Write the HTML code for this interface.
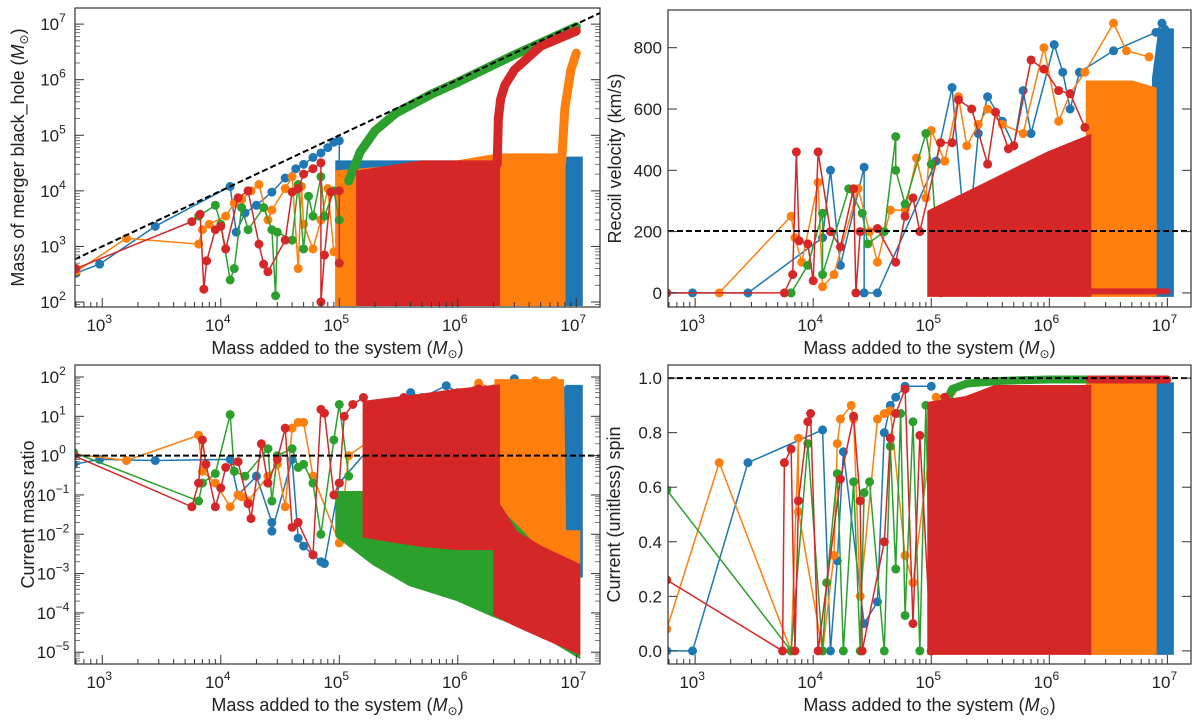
<!DOCTYPE html>
<html><head><meta charset="utf-8"><style>
html,body{margin:0;padding:0;background:#fff}
svg{display:block;font-family:"Liberation Sans","DejaVu Sans",sans-serif}
</style></head><body>
<svg id="fig" width="1200" height="723" viewBox="0 0 1200 723" xmlns="http://www.w3.org/2000/svg"></svg>
<script>
// ---------- data arrays ----------
// Panel 1: mass of merger black hole
const p1BlueSparse = [[600,330],[950,480],[2800,2300],[12000,12000],[13500,1800],[16000,4000],[20000,5500],[27000,9500],[35000,17000],[43000,25000],[50000,30000],[60000,40000],[70000,48000],[80000,60000],[90000,75000],[100000,80000],[100000,3000],[120000,1500]];
const p1OrangeSparse = [[600,350],[1600,1400],[6500,1100],[7000,2000],[8000,2500],[11000,3500],[13000,6000],[15000,7000],[18000,10000],[21000,13000],[25000,3000],[27000,4500],[35000,11000],[40000,18000],[45000,400],[48000,12000],[50000,2500],[60000,900],[70000,3000],[80000,11000],[90000,800]];
const p1GreenSparse = [[6500,3500],[9000,5500],[10000,2500],[12000,250],[13000,400],[15000,5000],[17000,2000],[23000,5000],[27000,2000],[29000,130],[30000,1800],[40000,1300],[45000,13000],[50000,900],[55000,8000],[60000,3500],[70000,18000],[75000,3500],[90000,10000],[100000,3000]];
const p1RedSparse = [[600,400],[5700,2800],[6700,3800],[7200,170],[7600,550],[9000,2000],[10000,2300],[11000,900],[14000,7500],[17000,10000],[21000,1100],[23000,480],[25000,350],[35000,1300],[40000,9500],[45000,11000],[50000,20000],[60000,25000],[70000,32000],[70000,100],[75000,700],[85000,9500],[100000,10000],[100000,500]];
const p1GreenCurveX = [120000,150000,200000,300000,600000,1000000,3000000,10000000];
const p1GreenCurveY = [15000,50000,120000,250000,550000,900000,2800000,9000000];
const p1RedCurveX = [2150000,2200000,2300000,2500000,3000000,5000000,10000000];
const p1RedCurveY = [30000,200000,450000,800000,1500000,4000000,7500000];
const p1OrangeCurveX = [7500000,8000000,9000000,10000000];
const p1OrangeCurveY = [30000,300000,1500000,3000000];
const p1BlueBandX = [100000,1000000,8500000,10500000];
const p1BlueBandLo = [100,100,100,100];
const p1BlueBandHi = [30000,30000,35000,35000];
const p1OrangeBandX = [100000,1000000,2200000,7500000];
const p1OrangeBandLo = [100,100,100,100];
const p1OrangeBandHi = [20000,30000,40000,40000];
const p1RedBandX = [150000,500000,1000000,2100000];
const p1RedBandLo = [100,100,100,100];
const p1RedBandHi = [20000,30000,30000,30000];

// Panel 2: recoil velocity
const p2BlueSparse = [[575,0],[950,0],[2800,0],[12000,180],[14000,400],[17000,90],[27000,410],[27000,0],[35000,0],[110000,430],[150000,670],[200000,120],[250000,520],[300000,640],[400000,560],[500000,480],[600000,660],[700000,520],[1100000,810],[1300000,720],[1500000,600],[1800000,720],[3500000,790],[8000000,850],[9000000,880],[9500000,860]];
const p2OrangeSparse = [[1600,0],[6500,250],[7000,180],[8000,100],[11000,360],[12000,20],[15000,60],[24000,340],[30000,200],[35000,100],[45000,270],[60000,270],[75000,440],[90000,310],[100000,530],[130000,430],[170000,640],[200000,480],[250000,550],[300000,600],[400000,550],[600000,520],[900000,800],[1200000,560],[1500000,650],[2000000,720],[3500000,880],[4500000,790],[7000000,770]];
const p2GreenSparse = [[6500,0],[9000,90],[12000,260],[12000,60],[20000,340],[26000,260],[29000,160],[40000,200],[50000,510],[50000,400],[60000,290],[90000,520],[100000,420],[120000,0]];
const p2RedSparse = [[575,0],[5700,0],[6700,60],[7200,460],[7600,170],[9000,160],[10000,40],[11000,460],[14000,200],[17000,150],[22000,340],[23000,0],[25000,200],[35000,210],[50000,100],[60000,250],[70000,310],[80000,200],[120000,490],[150000,490],[170000,630],[220000,600],[300000,420],[350000,590],[450000,470],[500000,480],[700000,760],[900000,730],[1200000,660],[1500000,650],[2000000,540]];
const p2BlueBandX = [8000000,9000000,10500000];
const p2BlueBandLo = [0,0,0];
const p2BlueBandHi = [700,850,850];
const p2OrangeBandX = [2200000,3000000,5000000,7500000];
const p2OrangeBandLo = [0,0,0,0];
const p2OrangeBandHi = [680,680,680,660];
const p2RedBandX = [100000,300000,1000000,2100000];
const p2RedBandLo = [0,0,0,0];
const p2RedBandHi = [260,350,450,500];
const p2RedFlatX = [100000,10000000];
const p2RedFlatY = [5,5];

// Panel 3: current mass ratio
const p3BlueSparse = [[575,0.6],[950,0.8],[2800,0.75],[12000,0.8],[14000,0.1],[20000,0.3],[27000,0.02],[27000,0.012],[40000,0.8],[45000,0.008],[50000,0.005],[60000,0.003],[70000,0.002],[75000,0.0018],[100000,0.2],[250000,5],[300000,20],[400000,40],[500000,30],[800000,60],[1200000,30],[3000000,90]];
const p3OrangeSparse = [[575,1.1],[1600,0.75],[6500,3.3],[7000,0.4],[9000,0.2],[12000,0.05],[14000,0.1],[15000,0.09],[17000,0.07],[25000,0.3],[30000,0.6],[35000,0.05],[40000,5],[45000,7],[50000,7],[60000,0.3],[100000,0.006],[120000,1],[200000,3],[600000,20],[1000000,30],[1500000,70],[2000000,50],[3000000,70],[4500000,80],[6500000,80]];
const p3GreenSparse = [[575,1.2],[6500,0.07],[7000,0.2],[9000,0.35],[12000,11],[13000,0.4],[16000,0.3],[25000,1.5],[27000,0.07],[30000,1],[40000,1.5],[45000,0.5],[50000,0.6],[60000,0.2],[70000,0.01],[90000,2.5],[100000,20],[120000,0.3]];
const p3RedSparse = [[575,1],[5700,0.05],[6500,0.2],[7000,2.5],[7500,0.6],[9000,0.05],[10000,0.15],[11000,0.5],[14000,0.7],[17000,0.06],[18000,0.025],[22000,2],[25000,0.2],[30000,0.8],[35000,5],[40000,0.015],[45000,0.02],[60000,0.003],[70000,15],[75000,12],[90000,0.1],[100000,0.2],[110000,10],[130000,20],[160000,30],[200000,12],[350000,30],[450000,8],[700000,20],[1000000,40],[1500000,50],[2000000,40]];
const p3GreenBandX = [100000,200000,400000,1000000,2000000,5000000,10000000];
const p3GreenBandLo = [0.01,0.002,0.0006,0.00025,0.0001,0.000035,0.00001];
const p3GreenBandHi = [0.1,0.1,0.1,0.1,0.05,0.003,0.0012];
const p3BlueBandX = [7500000,8500000,10500000];
const p3BlueBandLo = [0.003,0.001,0.001];
const p3BlueBandHi = [30,50,50];
const p3OrangeBandX = [2200000,3000000,5000000,7300000,7600000,10000000];
const p3OrangeBandLo = [0.05,0.01,0.004,0.002,0.0015,0.0012];
const p3OrangeBandHi = [70,70,70,70,0.01,0.01];
const p3RedBandX = [170000,500000,1000000,2100000];
const p3RedBandLo = [0.01,0.006,0.005,0.005];
const p3RedBandHi = [20,30,40,50];
const p3RedTailX = [2150000,3000000,5000000,10000000];
const p3RedTailLo = [0.0001,0.00006,0.00003,0.000012];
const p3RedTailHi = [0.05,0.01,0.004,0.0015];

// Panel 4: spin
const p4BlueSparse = [[575,0],[950,0],[2800,0.69],[12000,0.81],[14000,0],[16000,0.33],[18000,0.73],[27000,0.1],[35000,0.18],[40000,0.8],[45000,0.9],[50000,0.93],[60000,0.97],[100000,0.97]];
const p4OrangeSparse = [[575,0.08],[1600,0.69],[6500,0],[7500,0.78],[7500,0.51],[12000,0],[15000,0.35],[16000,0.76],[17000,0.85],[21000,0.9],[22000,0.85],[25000,0.2],[35000,0.85],[40000,0.87],[45000,0.88],[60000,0.35],[70000,0.25],[110000,0.93],[150000,0.95],[220000,0.5]];
const p4GreenSparse = [[575,0.59],[6500,0],[9000,0.76],[12000,0],[13000,0.25],[16000,0.65],[18000,0],[22000,0.62],[25000,0],[27000,0.58],[30000,0.62],[40000,0],[45000,0.75],[50000,0.3],[55000,0.87],[60000,0.13],[70000,0.84],[80000,0],[90000,0.9],[100000,0]];
const p4RedSparse = [[575,0.26],[5500,0],[5700,0.69],[6500,0.74],[7000,0],[7500,0.55],[9000,0.84],[9500,0.87],[11000,0],[17000,0.63],[22000,0.86],[25000,0.55],[26000,0],[40000,0.4],[45000,0.78],[50000,0.87],[60000,0.96],[70000,0.1],[80000,0.79],[100000,0],[110000,0.9],[130000,0.93]];
const p4BlueBandX = [8000000,10500000];
const p4BlueBandLo = [0,0];
const p4BlueBandHi = [0.97,0.97];
const p4OrangeBandX = [2200000,7500000];
const p4OrangeBandLo = [0,0];
const p4OrangeBandHi = [0.97,0.97];
const p4RedBandX = [100000,200000,350000,2100000];
const p4RedBandLo = [0,0,0,0];
const p4RedBandHi = [0.9,0.92,0.96,0.96];
const p4GreenCurveX = [130000,150000,200000,400000,1000000,2200000];
const p4GreenCurveY = [0.9,0.96,0.98,0.99,0.995,0.995];
const p4RedTopX = [2200000,10000000];
const p4RedTopY = [0.995,0.995];

const C = {blue:'#1f77b4', orange:'#ff7f0e', green:'#2ca02c', red:'#d62728'};
const xTickExp = [3,4,5,6,7];

// ---------- drawing ----------
const NS = 'http://www.w3.org/2000/svg';
const fig = document.getElementById('fig');
function mk(tag, attrs, parent){
  const e = document.createElementNS(NS, tag);
  for (const k in attrs) e.setAttribute(k, attrs[k]);
  (parent||fig).appendChild(e);
  return e;
}
function makePanel(name, box, ylog, ymin, ymax){
  const g = mk('g', {});
  
  
  const xmin = 2.77, xmax = 7.2;
  const sx = v => box.x0 + (Math.log10(v) - xmin) / (xmax - xmin) * (box.x1 - box.x0);
  const sy = ylog ? v => box.y1 - (Math.log10(v) - ymin) / (ymax - ymin) * (box.y1 - box.y0)
                  : v => box.y1 - (v - ymin) / (ymax - ymin) * (box.y1 - box.y0);
  const clipId = 'clip-' + name;
  const cp = mk('clipPath', {id: clipId}, g);
  mk('rect', {x: box.x0, y: box.y0, width: box.x1 - box.x0, height: box.y1 - box.y0}, cp);
  const plot = mk('g', {'clip-path': 'url(#' + clipId + ')'}, g);
  return {g, plot, sx, sy, box};
}
function band(P, name, color, xs, lo, hi){
  const pts = [];
  for (let i = 0; i < xs.length; i++) pts.push(P.sx(xs[i]) + ',' + P.sy(hi[i]));
  for (let i = xs.length - 1; i >= 0; i--) pts.push(P.sx(xs[i]) + ',' + P.sy(lo[i]));
  const e = mk('polygon', {points: pts.join(' '), fill: color, stroke: color, 'stroke-width': 8, 'stroke-linejoin': 'miter'}, P.plot);
  
  
}
function curve(P, name, color, xs, ys, w){
  const pts = xs.map((x, i) => P.sx(x) + ',' + P.sy(ys[i])).join(' ');
  const e = mk('polyline', {points: pts, fill: 'none', stroke: color, 'stroke-width': w, 'stroke-linecap': 'round', 'stroke-linejoin': 'round'}, P.plot);
  
  
}
function sparse(P, name, color, data){
  const g = mk('g', {}, P.plot);
  
  
  const pts = data.map(d => P.sx(d[0]) + ',' + P.sy(d[1])).join(' ');
  mk('polyline', {points: pts, fill: 'none', stroke: color, 'stroke-width': 1.5}, g);
  data.forEach(d => {
    const c = mk('circle', {cx: P.sx(d[0]), cy: P.sy(d[1]), r: 4.5, fill: color}, g);
    
    
  });
}
function hdash(P, name, yv){
  const e = mk('line', {x1: P.box.x0, x2: P.box.x1, y1: P.sy(yv), y2: P.sy(yv), stroke: '#000', 'stroke-width': 2, 'stroke-dasharray': '6,3'}, P.plot);
  
  
}
function supLabel(parent, x, y, base, exp, anchor){
  const t = mk('text', {x: x, y: y, 'font-size': 17, 'text-anchor': anchor, fill: '#222'}, parent);
  t.appendChild(document.createTextNode(base));
  const s = mk('tspan', {'font-size': 12, dy: -8}, t);
  s.textContent = exp;
  return t;
}
function axes(P, ylog, yTicks, yLabels, ytitle, ytitleX){
  const b = P.box, g = P.g;
  const xt = mk('g', {}, g);
  
  
  for (let e = 2; e <= 7; e++) {
    for (let m = 1; m < 10; m++) {
      const v = m * Math.pow(10, e);
      const x = P.sx(v);
      if (x < b.x0 || x > b.x1) continue;
      const len = m === 1 ? 9 : 5;
      mk('line', {x1: x, x2: x, y1: b.y1, y2: b.y1 - len, stroke: '#333', 'stroke-width': 1}, xt);
    }
  }
  xTickExp.forEach(e => {
    const l = supLabel(xt, P.sx(Math.pow(10, e)) - 3, b.y1 + 24, '10', String(e), 'middle');
    
  });
  const yt = mk('g', {}, g);
  
  
  yTicks.forEach((v, i) => {
    const y = P.sy(v);
    mk('line', {x1: b.x0, x2: b.x0 + 9, y1: y, y2: y, stroke: '#333'}, yt);
    mk('line', {x1: b.x1, x2: b.x1 - 9, y1: y, y2: y, stroke: '#333'}, yt);
    if (ylog) {
      supLabel(yt, b.x0 - 22, y + 6, '10', yLabels[i], 'middle');
    } else {
      const t = mk('text', {x: b.x0 - 6, y: y + 6, 'font-size': 17, 'text-anchor': 'end', fill: '#222'}, yt);
      t.textContent = yLabels[i];
    }
  });
  if (ylog) {
    for (let e = -6; e <= 8; e++) for (let m = 2; m < 10; m++) {
      const y = P.sy(m * Math.pow(10, e));
      if (y < b.y0 || y > b.y1) continue;
      mk('line', {x1: b.x0, x2: b.x0 + 5, y1: y, y2: y, stroke: '#555', 'stroke-width': 0.8}, yt);
      mk('line', {x1: b.x1, x2: b.x1 - 5, y1: y, y2: y, stroke: '#555', 'stroke-width': 0.8}, yt);
    }
  }
  const fr = mk('rect', {x: b.x0, y: b.y0, width: b.x1 - b.x0, height: b.y1 - b.y0, fill: 'none', stroke: '#333', 'stroke-width': 1.2}, g);
  
  
  const xtl = mk('text', {x: (b.x0 + b.x1) / 2, y: b.y1 + 47, 'font-size': 18, 'text-anchor': 'middle', fill: '#222'}, g);
  
  
  xtl.appendChild(document.createTextNode('Mass added to the system ('));
  const it = mk('tspan', {'font-style': 'italic'}, xtl); it.textContent = 'M';
  const sub = mk('tspan', {'font-size': 12, dy: 4}, xtl); sub.textContent = '\u2299';
  const cl = mk('tspan', {dy: -4}, xtl); cl.textContent = ')';
  const cy = (b.y0 + b.y1) / 2;
  const ytl = mk('text', {x: ytitleX, y: cy, 'font-size': 18, 'text-anchor': 'middle', fill: '#222', transform: 'rotate(-90 ' + ytitleX + ' ' + cy + ')'}, g);
  
  
  ytl.innerHTML = ytitle;
}

// Panel 1
const P1 = makePanel('panel-bh-mass', {x0:75, x1:600, y0:8, y1:307}, true, 1.91, 7.29);
band(P1, 'blue-dense', C.blue, p1BlueBandX, p1BlueBandLo, p1BlueBandHi);
sparse(P1, 'blue-series', C.blue, p1BlueSparse);
band(P1, 'orange-dense', C.orange, p1OrangeBandX, p1OrangeBandLo, p1OrangeBandHi);
curve(P1, 'orange-growth', C.orange, p1OrangeCurveX, p1OrangeCurveY, 9);
sparse(P1, 'orange-series', C.orange, p1OrangeSparse);
curve(P1, 'green-growth', C.green, p1GreenCurveX, p1GreenCurveY, 9);
sparse(P1, 'green-series', C.green, p1GreenSparse);
band(P1, 'red-dense', C.red, p1RedBandX, p1RedBandLo, p1RedBandHi);
curve(P1, 'red-growth', C.red, p1RedCurveX, p1RedCurveY, 9);
sparse(P1, 'red-series', C.red, p1RedSparse);
(function(){ const e = mk('line', {x1: P1.sx(500), y1: P1.sy(500), x2: P1.sx(2e7), y2: P1.sy(2e7), stroke: '#000', 'stroke-width': 2, 'stroke-dasharray': '6,3'}, P1.plot);

 })();
axes(P1, true, [1e2,1e3,1e4,1e5,1e6,1e7], ['2','3','4','5','6','7'], 'Mass of merger black_hole (<tspan font-style="italic">M</tspan><tspan font-size="12" dy="4">\u2299</tspan><tspan dy="-4">)</tspan>', 24);

// Panel 2
const P2 = makePanel('panel-recoil', {x0:668, x1:1191, y0:10, y1:307}, false, -46, 923);
band(P2, 'blue-dense', C.blue, p2BlueBandX, p2BlueBandLo, p2BlueBandHi);
sparse(P2, 'blue-series', C.blue, p2BlueSparse);
band(P2, 'orange-dense', C.orange, p2OrangeBandX, p2OrangeBandLo, p2OrangeBandHi);
sparse(P2, 'orange-series', C.orange, p2OrangeSparse);
sparse(P2, 'green-series', C.green, p2GreenSparse);
band(P2, 'red-dense', C.red, p2RedBandX, p2RedBandLo, p2RedBandHi);
curve(P2, 'red-floor', C.red, p2RedFlatX, p2RedFlatY, 6);
sparse(P2, 'red-series', C.red, p2RedSparse);
hdash(P2, 'escape-velocity-line', 202);
axes(P2, false, [0,200,400,600,800], ['0','200','400','600','800'], 'Recoil velocity (km/s)', 621);

// Panel 3
const P3 = makePanel('panel-mass-ratio', {x0:75, x1:600, y0:365, y1:664}, true, -5.30, 2.305);
band(P3, 'blue-dense', C.blue, p3BlueBandX, p3BlueBandLo, p3BlueBandHi);
sparse(P3, 'blue-series', C.blue, p3BlueSparse);
band(P3, 'orange-dense', C.orange, p3OrangeBandX, p3OrangeBandLo, p3OrangeBandHi);
sparse(P3, 'orange-series', C.orange, p3OrangeSparse);
band(P3, 'green-dense', C.green, p3GreenBandX, p3GreenBandLo, p3GreenBandHi);
sparse(P3, 'green-series', C.green, p3GreenSparse);
band(P3, 'red-dense', C.red, p3RedBandX, p3RedBandLo, p3RedBandHi);
band(P3, 'red-tail', C.red, p3RedTailX, p3RedTailLo, p3RedTailHi);
sparse(P3, 'red-series', C.red, p3RedSparse);
hdash(P3, 'unity-ratio-line', 1);
axes(P3, true, [1e-5,1e-4,1e-3,1e-2,1e-1,1,10,100], ['\u22125','\u22124','\u22123','\u22122','\u22121','0','1','2'], 'Current mass ratio', 34);

// Panel 4
const P4 = makePanel('panel-spin', {x0:668, x1:1191, y0:365, y1:664}, false, -0.048, 1.048);
band(P4, 'blue-dense', C.blue, p4BlueBandX, p4BlueBandLo, p4BlueBandHi);
sparse(P4, 'blue-series', C.blue, p4BlueSparse);
band(P4, 'orange-dense', C.orange, p4OrangeBandX, p4OrangeBandLo, p4OrangeBandHi);
sparse(P4, 'orange-series', C.orange, p4OrangeSparse);
curve(P4, 'green-saturation', C.green, p4GreenCurveX, p4GreenCurveY, 8);
sparse(P4, 'green-series', C.green, p4GreenSparse);
band(P4, 'red-dense', C.red, p4RedBandX, p4RedBandLo, p4RedBandHi);
curve(P4, 'red-saturation', C.red, p4RedTopX, p4RedTopY, 8);
sparse(P4, 'red-series', C.red, p4RedSparse);
hdash(P4, 'max-spin-line', 1.0);
axes(P4, false, [0,0.2,0.4,0.6,0.8,1.0], ['0.0','0.2','0.4','0.6','0.8','1.0'], 'Current (unitless) spin', 620);
</script>
</body></html>
